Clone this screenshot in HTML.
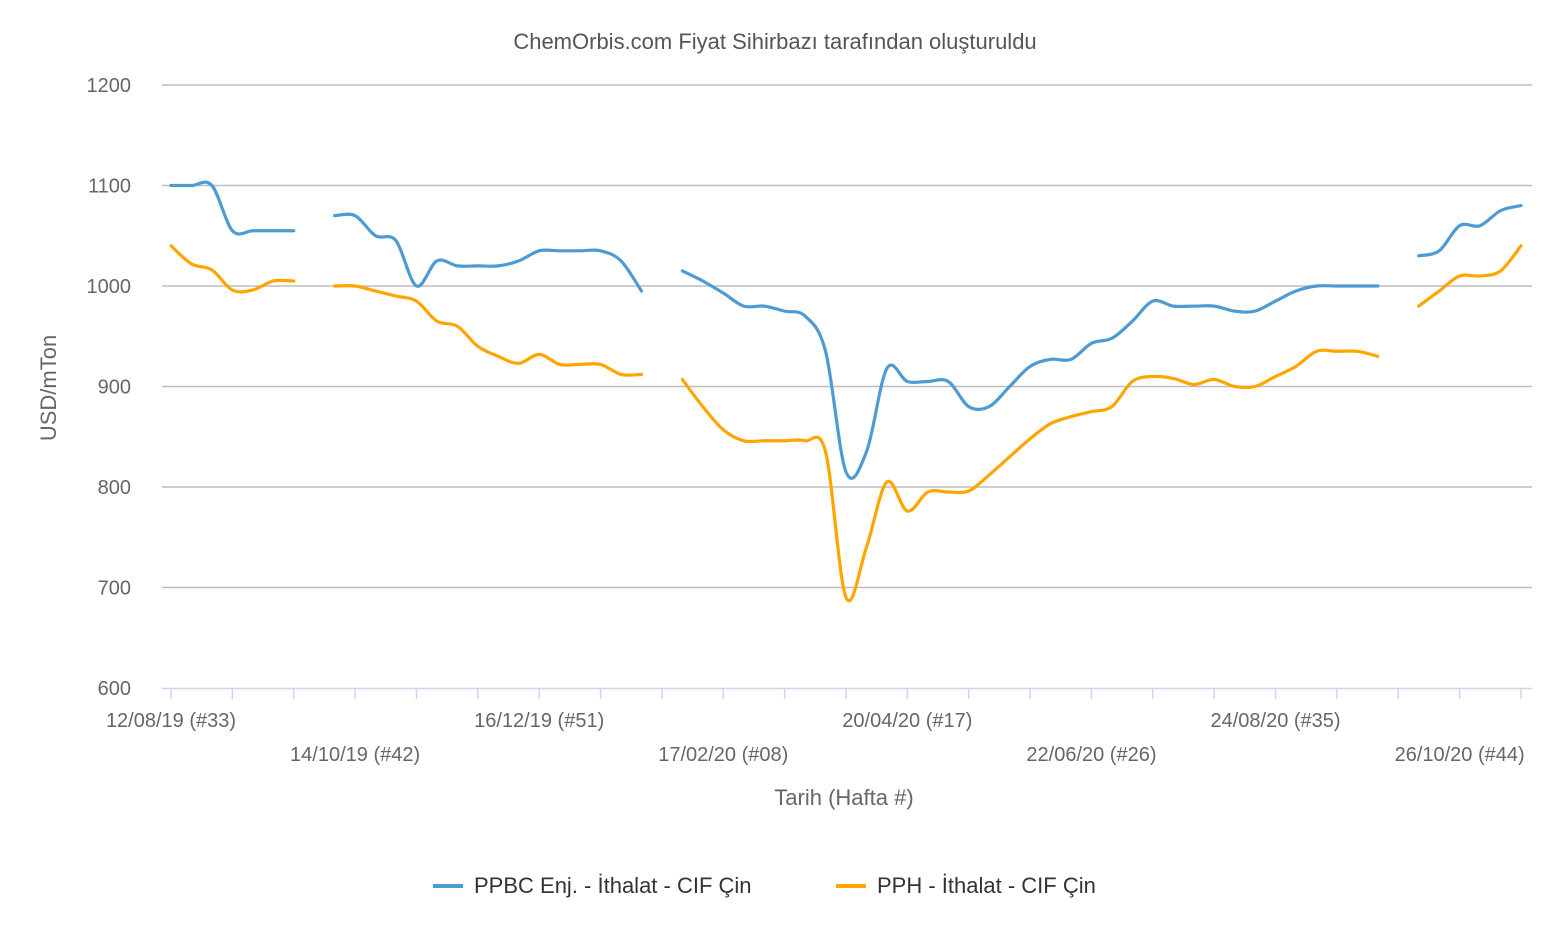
<!DOCTYPE html>
<html><head><meta charset="utf-8"><style>
body{margin:0;background:#fff;font-family:"Liberation Sans","DejaVu Sans",sans-serif}
</style></head><body>
<svg width="1552" height="930" viewBox="0 0 1552 930" xmlns="http://www.w3.org/2000/svg">
<text x="775" y="49" text-anchor="middle" font-size="22" fill="#555">ChemOrbis.com Fiyat Sihirbazı tarafından oluşturuldu</text>
<g id="grid"></g>
<g id="yl"></g>
<g id="xa"></g>
<g id="series"></g>
<text transform="translate(56,388) rotate(-90)" text-anchor="middle" font-size="22" fill="#666">USD/mTon</text>
<text x="844" y="805" text-anchor="middle" font-size="22" fill="#666">Tarih (Hafta #)</text>
<g><line x1="433" y1="886" x2="463" y2="886" stroke="#4e9bd4" stroke-width="4"/><text x="474" y="893" font-size="22" fill="#333">PPBC Enj. - İthalat - CIF Çin</text></g>
<g><line x1="836" y1="886" x2="866" y2="886" stroke="#ffa500" stroke-width="4"/><text x="877" y="893" font-size="22" fill="#333">PPH - İthalat - CIF Çin</text></g>
</svg>
<script>
const yTicks=[600,700,800,900,1000,1100,1200];
const xLabels=["12/08/19 (#33)","14/10/19 (#42)","16/12/19 (#51)","17/02/20 (#08)","20/04/20 (#17)","22/06/20 (#26)","24/08/20 (#35)","26/10/20 (#44)"];
const ppbc=[1100,1100,1100,1055,1055,1055,1055,null,1070,1070,1050,1045,1000,1025,1020,1020,1020,1025,1035,1035,1035,1035,1025,995,null,1015,1005,993,980,980,975,970,935,815,835,918,905,905,905,880,880,900,920,927,927,943,948,965,985,980,980,980,975,975,985,995,1000,1000,1000,1000,null,1030,1035,1060,1060,1075,1080];
const pph=[1040,1022,1016,996,996,1005,1005,null,1000,1000,995,990,985,965,960,940,930,923,932,922,922,922,912,912,null,907,880,857,846,846,846,846,835,690,740,805,776,795,795,796,812,830,848,863,870,875,880,905,910,908,902,907,900,900,910,920,935,935,935,930,null,980,995,1010,1010,1015,1040];
const NS="http://www.w3.org/2000/svg";
const X=w=>171+w*(1350/66);
const Y=v=>688-(v-600)*(603/600);
function mk(t,a,p){const e=document.createElementNS(NS,t);for(const k in a)e.setAttribute(k,a[k]);p.appendChild(e);return e;}
const grid=document.getElementById('grid'),yl=document.getElementById('yl'),xa=document.getElementById('xa'),sg=document.getElementById('series');
yTicks.forEach(v=>{
 if(v>600){const l=mk('line',{x1:162,x2:1532,y1:Y(v),y2:Y(v),stroke:'#bdbdbd','stroke-width':1.5},grid);
 
 }
 const t=mk('text',{x:131,y:Y(v)+7,'text-anchor':'end','font-size':20,fill:'#666'},yl);t.textContent=v;
 
 
});
mk('line',{x1:162,x2:1532,y1:688.5,y2:688.5,stroke:'#ccd6eb','stroke-width':1.5},xa);
for(let w=0;w<=66;w+=3){const l=mk('line',{x1:X(w),x2:X(w),y1:688,y2:699,stroke:'#ccd6eb','stroke-width':1.5},xa);
 
 }
xLabels.forEach((s,i)=>{const t=mk('text',{x:X(i*9),y:i%2?761:727,'text-anchor':'middle','font-size':20,fill:'#666'},xa);t.textContent=s;
 
 });
function draw(data,color,name){
 let segs=[],cur=[];
 data.forEach((v,i)=>{if(v==null){if(cur.length)segs.push(cur);cur=[];}else cur.push([X(i),Y(v)]);});
 if(cur.length)segs.push(cur);
 let d='';
 segs.forEach(p=>{d+='M'+p[0][0]+','+p[0][1];
  for(let i=1;i<p.length;i++){const p0=p[i-2]||p[i-1],p1=p[i-1],p2=p[i],p3=p[i+1]||p[i];
   const c1=[p1[0]+(p2[0]-p0[0])/6,p1[1]+(p2[1]-p0[1])/6],c2=[p2[0]-(p3[0]-p1[0])/6,p2[1]-(p3[1]-p1[1])/6];
   d+=' C'+c1+' '+c2+' '+p2;}});
 const e=mk('path',{d:d,fill:'none',stroke:color,'stroke-width':3.2,'stroke-linecap':'round','stroke-linejoin':'round'},sg);
 
 
}
draw(ppbc,'#4e9bd4','ppbc-line');
draw(pph,'#ffa500','pph-line');
</script>
</body></html>
